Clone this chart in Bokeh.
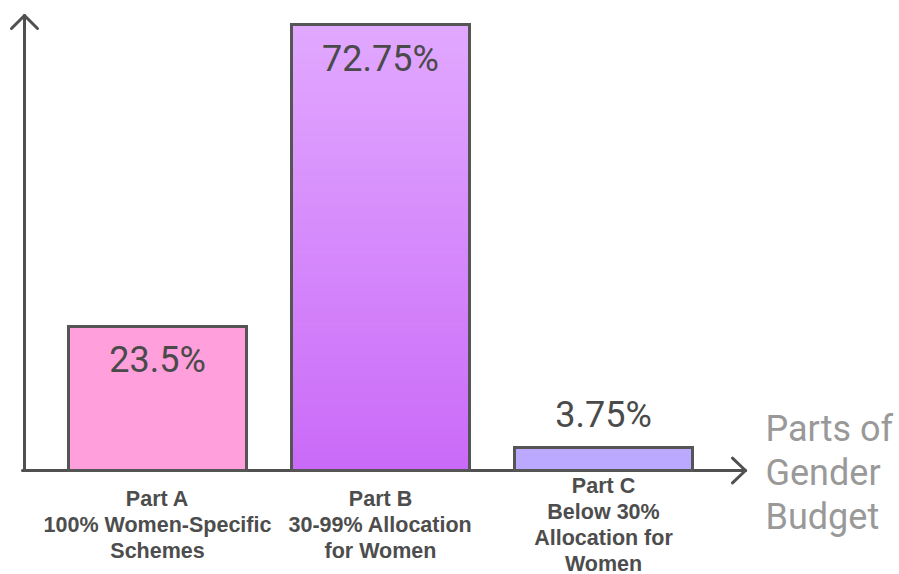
from bokeh.plotting import figure
from bokeh.models import ColumnDataSource, Range1d
from bokeh.embed import file_html
from bokeh.resources import INLINE
from bokeh.core.properties import value

# ---- data ----
categories = ["Part A\n100% Women-Specific\nSchemes",
              "Part B\n30-99% Allocation\nfor Women",
              "Part C\nBelow 30%\nAllocation for\nWomen"]
values = [23.5, 72.75, 3.75]
value_labels = ["23.5%", "72.75%", "3.75%"]
bar_colors = ["#FF9FDB", None, "#BBA8FF"]
axis_title = ["Parts of", "Gender", "Budget"]

# ---- layout constants (pixels) ----
W, H = 899, 574
Y0_PX = 470          # baseline from top
PPY = 6.13           # px per value unit
X0_PX = 157          # center of first bar
PPX = 223            # px per category slot
BAR_W = 178 / PPX

p = figure(width=W, height=H, output_backend="svg", toolbar_location=None,
           x_range=Range1d(-X0_PX / PPX, (W - X0_PX) / PPX),
           y_range=Range1d(-(H - Y0_PX) / PPY, Y0_PX / PPY),
           min_border=0, border_fill_color="white", background_fill_color="white")
p.axis.visible = False
p.grid.visible = False
p.outline_line_color = None

AX = "#505050"
ax_x = (24 - X0_PX) / PPX
ax_top = (Y0_PX - 15) / PPY
ax_right = (745 - X0_PX) / PPX
hx = 13 / PPX
hy = 13 / PPY

# axes
p.segment(x0=[ax_x, ax_x - 2 / PPX], y0=[0, 0], x1=[ax_x, ax_right], y1=[ax_top, 0],
          line_color=AX, line_width=3, line_cap="round")
# arrow heads
p.segment(x0=[ax_x - hx, ax_x + hx, ax_right - hx, ax_right - hx],
          y0=[ax_top - hy, ax_top - hy, hy * 0.95, -hy * 0.95],
          x1=[ax_x, ax_x, ax_right, ax_right],
          y1=[ax_top, ax_top, 0, 0],
          line_color=AX, line_width=3, line_cap="round", line_join="round")

xs = list(range(len(values)))

# gradient bar B
def lerp(c1, c2, t):
    a = [int(c1[i:i + 2], 16) for i in (1, 3, 5)]
    b = [int(c2[i:i + 2], 16) for i in (1, 3, 5)]
    return "#%02x%02x%02x" % tuple(round(a[k] + (b[k] - a[k]) * t) for k in range(3))

N = 80
vb = values[1]
bots = [vb * i / N for i in range(N)]
tops = [vb * (i + 1) / N for i in range(N)]
cols = [lerp("#CA6AF8", "#E1A8FF", (i + 0.5) / N) for i in range(N)]
p.quad(left=[1 - BAR_W / 2] * N, right=[1 + BAR_W / 2] * N, bottom=bots, top=tops,
       fill_color=cols, line_color=cols, line_width=1.5)

# flat bars A, C
p.vbar(x=[0, 2], top=[values[0], values[2]], width=BAR_W, bottom=0,
       fill_color=[bar_colors[0], bar_colors[2]], line_color=None)
# outlines
p.vbar(x=xs, top=values, width=BAR_W, bottom=0, fill_color=None,
       line_color="#555555", line_width=3, line_join="miter")

# value labels
offs = [34 if v > 10 else -33 for v in values]
p.text(x=xs, y=values, text=value_labels, y_offset=offs,
       text_align="center", text_baseline="middle",
       text_font=value("Roboto"), text_font_size="36px", text_color="#4A4A4A")

# category labels
lx, ly, lt, lo = [], [], [], []
for i, c in enumerate(categories):
    lines = c.split("\n")
    n = len(lines)
    for j, s in enumerate(lines):
        lx.append(i)
        ly.append(0)
        lt.append(s)
        lo.append(54 + (j - (n - 1) / 2) * 26)
src = ColumnDataSource(dict(x=lx, y=ly, t=lt, o=lo))
p.text(x="x", y="y", text="t", y_offset="o", source=src,
       text_align="center", text_baseline="middle",
       text_font=value("Liberation Sans"), text_font_style="bold",
       text_font_size="21.5px", text_color="#4D4D4D")

# axis title
tx = (765 - X0_PX) / PPX
p.text(x=[tx] * 3, y=[0] * 3, text=axis_title, y_offset=[-42, 2, 46],
       text_align="left", text_baseline="middle",
       text_font=value("Roboto"), text_font_size="36px", text_color="#999999")

open("out.html", "w").write(file_html(p, INLINE))
